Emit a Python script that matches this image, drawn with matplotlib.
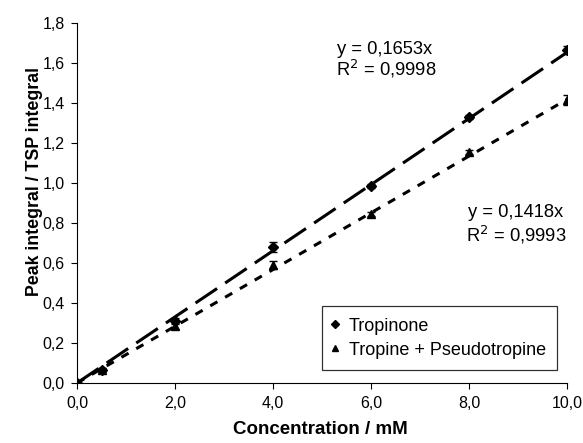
import matplotlib
matplotlib.use("Agg")
import matplotlib.pyplot as plt
from matplotlib.lines import Line2D
import numpy as np

plt.rcParams["font.family"] = ["Liberation Sans", "DejaVu Sans"]

# concentrations (mM)
conc = [0.0, 0.5, 2.0, 4.0, 6.0, 8.0, 10.0]

# measured peak integral / TSP integral
tropinone = [0.0, 0.065, 0.31, 0.68, 0.985, 1.33, 1.665]
tropinone_err = [0.0, 0.008, 0.015, 0.025, 0.008, 0.012, 0.02]
tropine = [0.0, 0.065, 0.285, 0.59, 0.845, 1.155, 1.415]
tropine_err = [0.0, 0.008, 0.015, 0.02, 0.01, 0.01, 0.025]

# linear fits through origin
slope_tropinone = 0.1653
slope_tropine = 0.1418

x_ticks = [0, 2, 4, 6, 8, 10]
x_ticklabels = ["0,0", "2,0", "4,0", "6,0", "8,0", "10,0"]
y_ticks = [0.0, 0.2, 0.4, 0.6, 0.8, 1.0, 1.2, 1.4, 1.6, 1.8]
y_ticklabels = ["0,0", "0,2", "0,4", "0,6", "0,8", "1,0", "1,2", "1,4", "1,6", "1,8"]

W, H = 583, 443
fig = plt.figure(figsize=(W / 100, H / 100), dpi=100)
# axes from x=77..567 px, y=23..383 px
ax = fig.add_axes([77 / W, 1 - 383 / H, 490 / W, 360 / H])

# trend lines
xfit = np.array([0.0, 10.0])
ax.plot(xfit, slope_tropinone * xfit, color="black", lw=2.2,
        dashes=(8.5, 3.2), zorder=2)
ax.plot(xfit, slope_tropine * xfit, color="black", lw=2.2,
        dashes=(2.7, 2.9), zorder=2)

# data with error bars
ax.errorbar(conc, tropinone, yerr=tropinone_err, fmt="D", ms=5,
            color="black", ecolor="black", elinewidth=1, capsize=2.6,
            zorder=3)
ax.errorbar(conc, tropine, yerr=tropine_err, fmt="^", ms=6,
            color="black", ecolor="black", elinewidth=1, capsize=2.6,
            zorder=3)

ax.set_xlim(0, 10)
ax.set_ylim(0, 1.8)
ax.set_xticks(x_ticks)
ax.set_xticklabels(x_ticklabels)
ax.set_yticks(y_ticks)
ax.set_yticklabels(y_ticklabels)
ax.tick_params(direction="out", length=4, width=0.8, labelsize=11.5, pad=5)
ax.spines["top"].set_visible(False)
ax.spines["right"].set_visible(False)
for s in ("left", "bottom"):
    ax.spines[s].set_linewidth(0.8)

fig.text(320 / W, 1 - 430 / H, "Concentration / mM", fontsize=13.5,
         fontweight="bold", ha="center", va="center")
fig.text(35 / W, 1 - 182 / H, "Peak integral / TSP integral", fontsize=12.8,
         fontweight="bold", ha="center", va="center", rotation=90)

# equations
ax.text(5.31, 1.645, "y = 0,1653x", fontsize=13.2, ha="left", va="baseline")
ax.text(5.29, 1.535, "R$^2$ = 0,9998", fontsize=13.2, ha="left", va="baseline")
ax.text(7.98, 0.83, "y = 0,1418x", fontsize=13.2, ha="left", va="baseline")
ax.text(7.94, 0.705, "R$^2$ = 0,9993", fontsize=13.2, ha="left", va="baseline")

handles = [
    Line2D([], [], marker="D", ms=4, color="black", ls="", label="Tropinone"),
    Line2D([], [], marker="^", ms=4.5, color="black", ls="",
           label="Tropine + Pseudotropine"),
]
leg = ax.legend(handles=handles, loc="lower right",
                bbox_to_anchor=((557 - 77) / 490, (383 - 370) / 360),
                borderaxespad=0, fontsize=13, frameon=True, fancybox=False,
                handlelength=0.2, handletextpad=0.65, borderpad=0.62,
                labelspacing=0.4)
leg.get_frame().set_edgecolor("black")
leg.get_frame().set_linewidth(0.9)

fig.savefig("out.png", dpi=100, facecolor="white")
